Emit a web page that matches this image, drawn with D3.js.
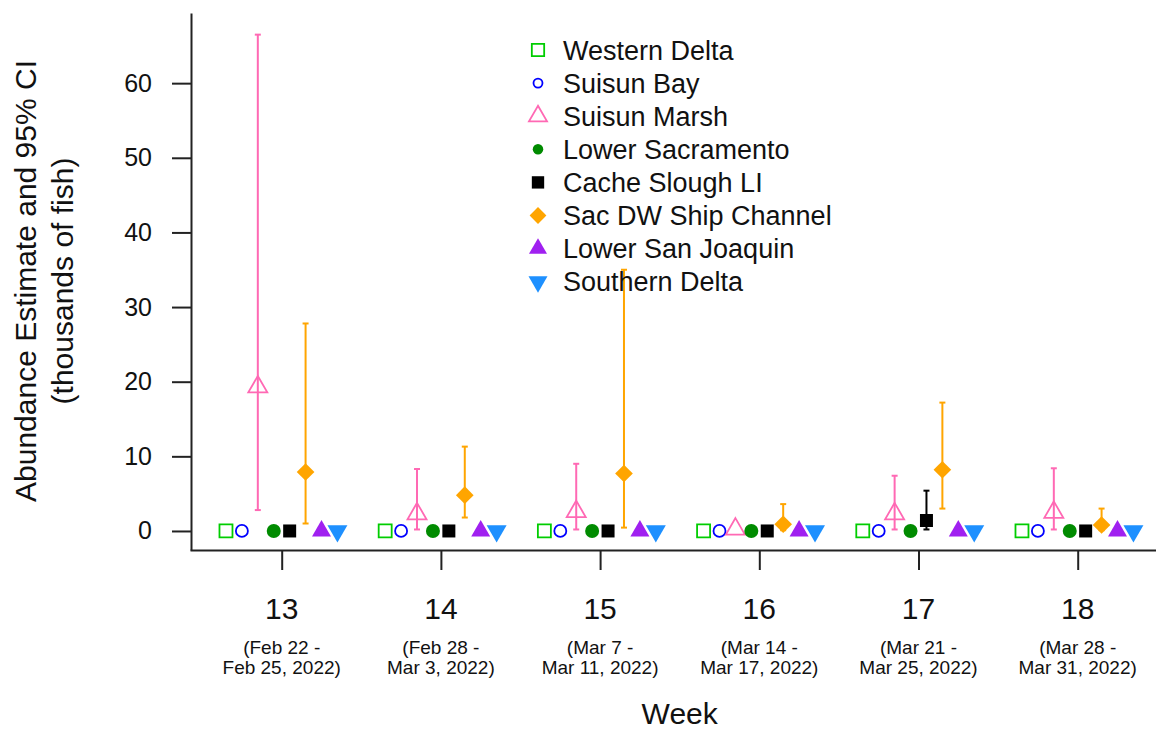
<!DOCTYPE html>
<html>
<head>
<meta charset="utf-8">
<script src="https://cdn.jsdelivr.net/npm/d3@7"></script>
<style>
  body { margin: 0; background: #fff; }
  svg { display: block; font-family: "Liberation Sans", Arial, sans-serif; }
</style>
</head>
<body>
<div id="chart"></div>
<script>
// Weeks and the date range under each tick
const weeks = [13, 14, 15, 16, 17, 18];
const weekDates = [
  ['(Feb 22 -', 'Feb 25, 2022)'],
  ['(Feb 28 -', 'Mar 3, 2022)'],
  ['(Mar 7 -', 'Mar 11, 2022)'],
  ['(Mar 14 -', 'Mar 17, 2022)'],
  ['(Mar 21 -', 'Mar 25, 2022)'],
  ['(Mar 28 -', 'Mar 31, 2022)']
];
const yTicks = [0, 10, 20, 30, 40, 50, 60];

const sites = ['Western Delta', 'Suisun Bay', 'Suisun Marsh', 'Lower Sacramento',
  'Cache Slough LI', 'Sac DW Ship Channel', 'Lower San Joaquin', 'Southern Delta'];

// Abundance estimates (thousands of fish) and 95% CI, one value per week
const westernDelta = [0, 0, 0, 0, 0, 0];
const suisunBay = [0, 0, 0, 0, 0, 0];
const suisunMarsh = [19.3, 2.3, 2.6, 0.25, 2.3, 2.5];
const suisunMarshLo = [2.8, 0.2, 0.2, 0.25, 0.2, 0.2];
const suisunMarshHi = [66.5, 8.3, 9.0, 0.25, 7.4, 8.4];
const lowerSacramento = [0, 0, 0, 0, 0, 0];
const cacheSlough = [0, 0, 0, 0, 1.4, 0];
const cacheSloughLo = [0, 0, 0, 0, 0.2, 0];
const cacheSloughHi = [0, 0, 0, 0, 5.4, 0];
const sacDW = [7.9, 4.8, 7.7, 0.9, 8.2, 0.8];
const sacDWLo = [1.0, 1.8, 0.45, 0.1, 3.0, 0.1];
const sacDWHi = [27.8, 11.3, 35.0, 3.6, 17.2, 3.0];
const lowerSanJoaquin = [0, 0, 0, 0, 0, 0];
const southernDelta = [0, 0, 0, 0, 0, 0];

const estimates = [westernDelta, suisunBay, suisunMarsh, lowerSacramento,
  cacheSlough, sacDW, lowerSanJoaquin, southernDelta];
const lowers = [westernDelta, suisunBay, suisunMarshLo, lowerSacramento,
  cacheSloughLo, sacDWLo, lowerSanJoaquin, southernDelta];
const uppers = [westernDelta, suisunBay, suisunMarshHi, lowerSacramento,
  cacheSloughHi, sacDWHi, lowerSanJoaquin, southernDelta];

// Marker style per site
const styles = [
  { shape: 'square', color: '#00CD00', filled: false, size: 13 },
  { shape: 'circle', color: '#0000FF', filled: false, size: 12 },
  { shape: 'triangle', color: '#FF69B4', filled: false, size: 19 },
  { shape: 'circle', color: '#008B00', filled: true, size: 14 },
  { shape: 'square', color: '#000000', filled: true, size: 13 },
  { shape: 'diamond', color: '#FFA500', filled: true, size: 12.5 },
  { shape: 'triangle', color: '#A020F0', filled: true, size: 19 },
  { shape: 'down', color: '#1E90FF', filled: true, size: 20 }
];

const width = 1156;
const height = 731;

const svg = d3.select('#chart').append('svg')
  .attr('width', width)
  .attr('height', height);

const x = d3.scaleLinear().domain([12.424, 18.576]).range([190, 1169.4]);
const y = d3.scaleLinear().domain([-2.55, 69.4]).range([550, 13]);

// Build path for one marker
function markerPath(shape, size) {
  if (shape === 'square') return d3.symbol(d3.symbolSquare, size * size)();
  if (shape === 'diamond') return d3.symbol(d3.symbolSquare, size * size)();
  if (shape === 'circle') return d3.symbol(d3.symbolCircle, Math.PI * size * size / 4)();
  // equilateral triangle with given width, centroid at origin
  const h = size * Math.sqrt(3) / 2;
  return `M0,${-2 * h / 3}L${size / 2},${h / 3}L${-size / 2},${h / 3}Z`;
}

function drawMarker(g, st, scale) {
  const p = g.append('path')
    .attr('d', markerPath(st.shape, st.size * scale));
  if (st.shape === 'diamond') p.attr('transform', 'rotate(45)');
  if (st.shape === 'down') p.attr('transform', 'rotate(180)');
  if (st.filled) {
    p.attr('fill', st.color).attr('stroke', 'none');
  } else {
    p.attr('fill', 'none').attr('stroke', st.color).attr('stroke-width', 1.8);
  }
}

// Flatten to rows
const rows = [];
sites.forEach((site, i) => {
  weeks.forEach((w, j) => {
    rows.push({
      site: i,
      xv: w + (i - 3.5) * 0.1,
      est: estimates[i][j],
      lo: lowers[i][j],
      hi: uppers[i][j]
    });
  });
});

// Error bars
const bars = svg.append('g');
rows.filter(d => d.hi > d.lo).forEach(d => {
  const c = styles[d.site].color;
  const g = bars.append('g').attr('stroke', c).attr('stroke-width', 2);
  g.append('line')
    .attr('x1', x(d.xv)).attr('x2', x(d.xv))
    .attr('y1', y(d.lo)).attr('y2', y(d.hi));
  [d.lo, d.hi].forEach(v => {
    g.append('line')
      .attr('x1', x(d.xv) - 3).attr('x2', x(d.xv) + 3)
      .attr('y1', y(v)).attr('y2', y(v));
  });
});

// Points
const pts = svg.append('g');
rows.forEach(d => {
  const g = pts.append('g').attr('transform', `translate(${x(d.xv)},${y(d.est)})`);
  drawMarker(g, styles[d.site], 1);
});

// Y axis
const yAxis = svg.append('g')
  .attr('transform', 'translate(191,0)')
  .call(d3.axisLeft(y).tickValues(yTicks).tickSize(19).tickSizeOuter(0).tickPadding(20));
yAxis.selectAll('text').attr('font-size', 25).attr('fill', '#111').attr('font-family', null);
yAxis.selectAll('line, path').attr('stroke', '#222').attr('stroke-width', 2);

// X axis
const xAxis = svg.append('g')
  .attr('transform', 'translate(0,550)')
  .call(d3.axisBottom(x).tickValues(weeks).tickSize(20).tickSizeOuter(0).tickFormat(''));
xAxis.selectAll('line, path').attr('stroke', '#222').attr('stroke-width', 2);

const xl = svg.append('g').attr('fill', '#111');
weeks.forEach((w, j) => {
  xl.append('text')
    .attr('x', x(w)).attr('y', 619)
    .attr('text-anchor', 'middle')
    .attr('font-size', 30)
    .text(w);
  weekDates[j].forEach((line, k) => {
    xl.append('text')
      .attr('x', x(w)).attr('y', 654 + k * 20)
      .attr('text-anchor', 'middle')
      .attr('font-size', 19)
      .text(line);
  });
});

// Axis titles
svg.append('text')
  .attr('x', x(15.5)).attr('y', 724)
  .attr('text-anchor', 'middle')
  .attr('font-size', 30)
  .attr('fill', '#111')
  .text('Week');

const yt = svg.append('g')
  .attr('transform', 'translate(0,281) rotate(-90)')
  .attr('fill', '#111')
  .attr('font-size', 30)
  .attr('text-anchor', 'middle');
yt.append('text').attr('x', 0).attr('y', 36).text('Abundance Estimate and 95% CI');
yt.append('text').attr('x', 0).attr('y', 73).text('(thousands of fish)');

// Legend
const legend = svg.append('g');
sites.forEach((site, i) => {
  const ly = 50 + i * 33.1;
  const g = legend.append('g').attr('transform', `translate(538,${ly})`);
  drawMarker(g, styles[i], styles[i].shape === 'circle' ? 0.75 : 0.95);
  legend.append('text')
    .attr('x', 563).attr('y', ly)
    .attr('dy', '0.36em')
    .attr('font-size', 27)
    .attr('fill', '#111')
    .text(site);
});
</script>
</body>
</html>
